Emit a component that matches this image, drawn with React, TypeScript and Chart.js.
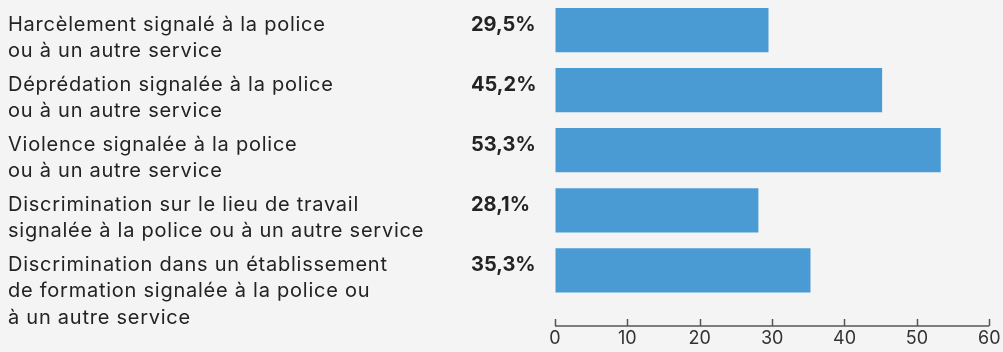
import { useEffect, useRef } from "react";
import { Chart, registerables } from "chart.js";

Chart.register(...registerables);

const categories: string[][] = [
  ["Harcèlement signalé à la police", "ou à un autre service"],
  ["Déprédation signalée à la police", "ou à un autre service"],
  ["Violence signalée à la police", "ou à un autre service"],
  ["Discrimination sur le lieu de travail", "signalée à la police ou à un autre service"],
  ["Discrimination dans un établissement", "de formation signalée à la police ou", "à un autre service"],
];
const values: number[] = [29.5, 45.2, 53.3, 28.1, 35.3];
const valueLabels: string[] = ["29,5%", "45,2%", "53,3%", "28,1%", "35,3%"];
const xTicks: number[] = [0, 10, 20, 30, 40, 50, 60];

const FONT = "Inter, 'Noto Sans', sans-serif";
const TEXT = "#232323";

const sidePlugin = {
  id: "sideLabels",
  afterDraw(chart: any) {
    const { ctx } = chart;
    const y = chart.scales.y;
    const x = chart.scales.x;
    ctx.save();
    ctx.fillStyle = TEXT;
    ctx.textBaseline = "alphabetic";
    ctx.textAlign = "left";
    categories.forEach((lines, i) => {
      const c = y.getPixelForValue(i);
      ctx.font = `400 20px ${FONT}`;
      (ctx as any).letterSpacing = "0.75px";
      lines.forEach((l, j) => ctx.fillText(l, 8, c + 0.5 + j * 26.5));
      ctx.font = `700 20px ${FONT}`;
      (ctx as any).letterSpacing = "0px";
      ctx.fillText(valueLabels[i], 471, c + 1);
    });
    const ly = x.top + 25.5;
    ctx.strokeStyle = "#555";
    ctx.lineWidth = 1.5;
    ctx.beginPath();
    ctx.moveTo(x.getPixelForValue(xTicks[0]), ly);
    ctx.lineTo(x.getPixelForValue(xTicks[xTicks.length - 1]), ly);
    xTicks.forEach((t) => {
      const px = Math.round(x.getPixelForValue(t)) + 0.5;
      ctx.moveTo(px, ly - 7);
      ctx.lineTo(px, ly);
    });
    ctx.stroke();
    ctx.restore();
  },
};

export default function App() {
  const ref = useRef<HTMLCanvasElement | null>(null);
  useEffect(() => {
    if (!ref.current) return;
    const chart = new Chart(ref.current, {
      type: "bar",
      data: {
        labels: categories.map((c) => c.join(" ")),
        datasets: [
          {
            data: values,
            backgroundColor: "#4a9bd4",
            borderWidth: 0,
            barPercentage: 0.737,
            categoryPercentage: 1,
          },
        ],
      },
      options: {
        indexAxis: "y",
        animation: false,
        responsive: true,
        maintainAspectRatio: false,
        layout: { padding: { left: 555, right: 12, top: 0, bottom: 0 } },
        scales: {
          x: {
            min: 0,
            max: 60,
            afterBuildTicks: (s: any) => {
              s.ticks = xTicks.map((v) => ({ value: v }));
            },
            ticks: { padding: 2.5, color: "#333", font: { family: FONT, size: 18 } },
            grid: {
              display: true,
              drawOnChartArea: false,
              drawTicks: true,
              tickLength: 25,
              color: "rgba(0,0,0,0)",
            },
            border: { display: false },
          },
          y: { display: false },
        },
        plugins: { legend: { display: false }, tooltip: { enabled: false } },
      },
      plugins: [sidePlugin],
    });
    return () => chart.destroy();
  }, []);
  return (
    <div style={{ position: "fixed", left: 0, top: 0, width: 1003, height: 352, background: "#f4f4f4" }}>
      <canvas ref={ref} />
    </div>
  );
}
